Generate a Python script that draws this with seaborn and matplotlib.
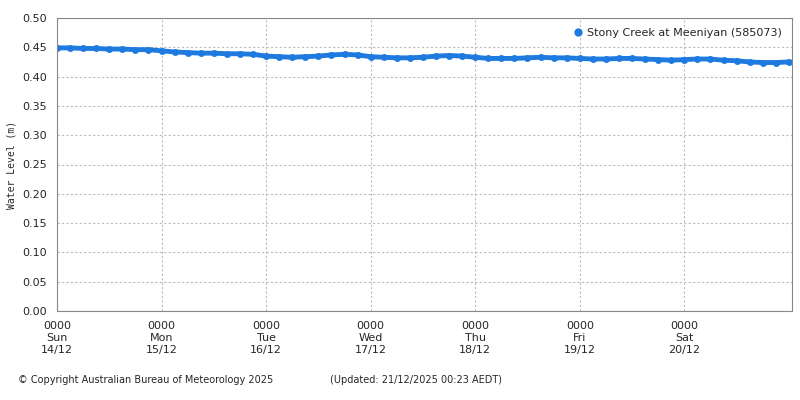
import matplotlib
matplotlib.use("Agg")
import matplotlib.pyplot as plt
import seaborn as sns
import numpy as np
import pandas as pd

hours = list(range(0, 169, 3))
levels = [0.449,0.449,0.448,0.448,0.447,0.447,0.446,0.446,
          0.444,0.442,0.441,0.440,0.440,0.439,0.439,0.438,
          0.435,0.434,0.433,0.434,0.435,0.437,0.438,0.437,
          0.434,0.433,0.432,0.432,0.433,0.435,0.436,0.435,
          0.433,0.431,0.431,0.431,0.432,0.433,0.432,0.432,
          0.431,0.430,0.430,0.431,0.431,0.430,0.429,0.428,
          0.429,0.430,0.430,0.428,0.427,0.425,0.424,0.424,
          0.425]
day_labels = ["0000\nSun\n14/12","0000\nMon\n15/12","0000\nTue\n16/12","0000\nWed\n17/12",
              "0000\nThu\n18/12","0000\nFri\n19/12","0000\nSat\n20/12"]
series = "Stony Creek at Meeniyan (585073)"

df = pd.DataFrame({"day": np.array(hours)/24.0, "level": levels})
sns.set_style("white")
plt.rcParams['font.family'] = ['DejaVu Sans']
fig = plt.figure(figsize=(8, 4), dpi=100)
ax = fig.add_axes([57/800, 1-311/400, (792-57)/800, (311-18)/400])
sns.lineplot(data=df, x="day", y="level", ax=ax, color="#1f7ae0", linewidth=3.5,
             marker="o", markersize=5, markeredgewidth=0, label=series)
ax.set_xlim(0, 7.03)
ax.set_ylim(0, 0.5)
ax.set_yticks(np.arange(0, 0.501, 0.05))
ax.set_yticklabels([f"{v:.2f}" for v in np.arange(0, 0.501, 0.05)], fontsize=8)
ax.set_xticks(range(7))
ax.set_xticklabels(day_labels, fontsize=8)
ax.set_xticks(np.arange(0, 7.03, 0.25), minor=True)
ax.tick_params(axis='x', which='minor', length=3)
ax.tick_params(axis='both', which='major', length=4, direction='out')
ax.grid(True, which='major', linestyle=(0, (2, 2)), color='#bbbbbb', linewidth=0.8)
ax.set_xlabel("")
ax.set_ylabel("Water Level (m)", fontsize=7, family='DejaVu Sans Mono')
for s in ax.spines.values():
    s.set_color('#888888')
leg = ax.legend(loc='upper right', fontsize=8, frameon=False, handlelength=0.6, handletextpad=0.5)
for h in leg.legend_handles:
    h.set_linewidth(0)
    h.set_markersize(6)
fig.text(18/800, 1-380/400, "© Copyright Australian Bureau of Meteorology 2025", fontsize=7, va='center')
fig.text(330/800, 1-380/400, "(Updated: 21/12/2025 00:23 AEDT)", fontsize=7, va='center')
fig.savefig("out.png", dpi=100)
